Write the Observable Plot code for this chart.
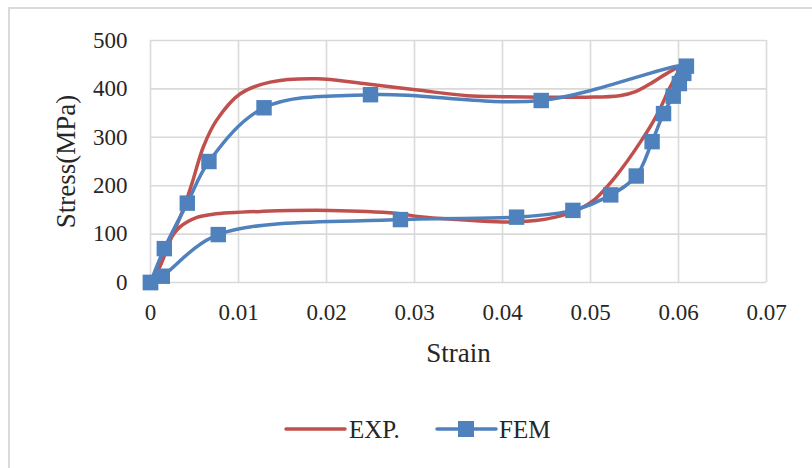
<!DOCTYPE html>
<html>
<head>
<meta charset="utf-8">
<script src="https://cdn.jsdelivr.net/npm/d3@7"></script>
<script src="https://cdn.jsdelivr.net/npm/@observablehq/plot@0.6"></script>
<style>
  html, body { margin: 0; padding: 0; background: #fff; overflow: hidden; }
  #wrap { position: relative; width: 812px; height: 468px; }
  #frame { position: absolute; left: 8px; top: 7px; width: 1000px; height: 1000px;
           border-top: 2px solid #dadada; border-left: 2px solid #dadada; pointer-events: none; }
  #legend { display: block; }
</style>
</head>
<body>
<div id="wrap">
  <div id="chart"></div>
  <div id="legend"></div>
  <div id="frame"></div>
</div>
<script>
// ---- data ----
const xTicks = [0, 0.01, 0.02, 0.03, 0.04, 0.05, 0.06, 0.07];
const yTicks = [0, 100, 200, 300, 400, 500];

// EXP. (smooth curve, loading then unloading)
const expStrain = [0, 0.0010, 0.0022, 0.0037, 0.0047, 0.0060, 0.0075, 0.0102, 0.0136, 0.0189, 0.0242, 0.0306, 0.0360, 0.0400, 0.0450, 0.0495, 0.0533, 0.0552, 0.0571, 0.0586, 0.0600,
                   0.0588, 0.0576, 0.0557, 0.0529, 0.0503, 0.0484, 0.0460, 0.0438, 0.0400, 0.0350, 0.0306, 0.0279, 0.0204, 0.0128, 0.0071, 0.0052, 0.0033, 0.0022, 0.0012, 0];
const expStress = [0, 30, 85, 150, 204, 280, 335, 390, 414, 421, 411, 397, 386, 384, 383, 383, 386, 395, 414, 431, 443,
                   395, 348, 291, 220, 169, 149, 135, 128, 125, 130, 136, 143, 149, 147, 141, 134, 114, 88, 45, 0];

// FEM (markers)
const femStrain = [0, 0.00157, 0.00418, 0.00664, 0.0129, 0.0250, 0.0444, 0.0609,
                   0.0606, 0.0601, 0.0594, 0.0583, 0.0570, 0.0552, 0.0523, 0.0480, 0.0416, 0.0284, 0.0077, 0.00134, 0];
const femStress = [0, 70, 164, 250, 361, 388, 376, 447,
                   432, 411, 385, 349, 291, 220, 181, 149, 135, 130, 99, 13, 0];

const seriesNames = ["EXP.", "FEM"];
const colors = ["#C0504D", "#4F81BD"];

const exp = expStrain.map((x, i) => ({x, y: expStress[i]}));
const fem = femStrain.map((x, i) => ({x, y: femStress[i]}));

const font = "Liberation Serif, Tinos, Times New Roman, DejaVu Serif, serif";
const textColor = "#262626";

const chart = Plot.plot({
  width: 812,
  height: 360,
  marginLeft: 150,
  marginRight: 46,
  marginTop: 40,
  marginBottom: 78,
  x: {domain: [0, 0.07]},
  y: {domain: [0, 500]},
  style: {fontFamily: font, fontSize: "23px", color: textColor, background: "transparent", overflow: "visible"},
  marks: [
    Plot.ruleX(xTicks, {stroke: "#d9d9d9", strokeWidth: 1.6}),
    Plot.ruleY(yTicks, {stroke: "#d9d9d9", strokeWidth: 1.6}),
    Plot.axisX({ticks: xTicks, tickSize: 0, tickPadding: 21, label: null,
                tickFormat: d => d === 0 ? "0" : d.toFixed(2), fontSize: 23, fill: textColor}),
    Plot.axisY({ticks: yTicks, tickSize: 0, tickPadding: 23, label: null, fontSize: 23, fill: textColor}),
    Plot.line(exp, {x: "x", y: "y", stroke: colors[0], strokeWidth: 3.5, curve: "catmull-rom"}),
    Plot.line(fem, {x: "x", y: "y", stroke: colors[1], strokeWidth: 3.5, curve: "catmull-rom"}),
    Plot.dot(fem, {x: "x", y: "y", symbol: "square", r: 8.7, fill: colors[1], stroke: "none"}),
    Plot.text(["Strain"], {text: d => d, frameAnchor: "bottom", dy: 71, fontSize: 27, textAnchor: "middle", lineAnchor: "middle", fill: textColor}),
    Plot.text(["Stress(MPa)"], {text: d => d, frameAnchor: "left", dx: -76, rotate: -90, textAnchor: "middle", lineAnchor: "bottom", fontSize: 27, fill: textColor})
  ]
});
document.getElementById("chart").appendChild(chart);

// ---- legend (below the SVG) ----
const lg = d3.select("#legend").append("svg").attr("width", 812).attr("height", 108)
  .style("display", "block").attr("font-family", font);
const cy = 69;
// EXP.
lg.append("line").attr("x1", 286).attr("x2", 345).attr("y1", cy).attr("y2", cy)
  .attr("stroke", colors[0]).attr("stroke-width", 3.5).attr("stroke-linecap", "round");
lg.append("text").attr("x", 349).attr("y", cy).attr("dy", "0.35em").attr("font-size", 25)
  .attr("fill", textColor).text(seriesNames[0]);
// FEM
lg.append("line").attr("x1", 437).attr("x2", 496).attr("y1", cy).attr("y2", cy)
  .attr("stroke", colors[1]).attr("stroke-width", 3.5).attr("stroke-linecap", "round");
lg.append("rect").attr("x", 466 - 8).attr("y", cy - 8).attr("width", 16).attr("height", 16)
  .attr("fill", colors[1]);
lg.append("text").attr("x", 499).attr("y", cy).attr("dy", "0.35em").attr("font-size", 25)
  .attr("fill", textColor).text(seriesNames[1]);
</script>
</body>
</html>
